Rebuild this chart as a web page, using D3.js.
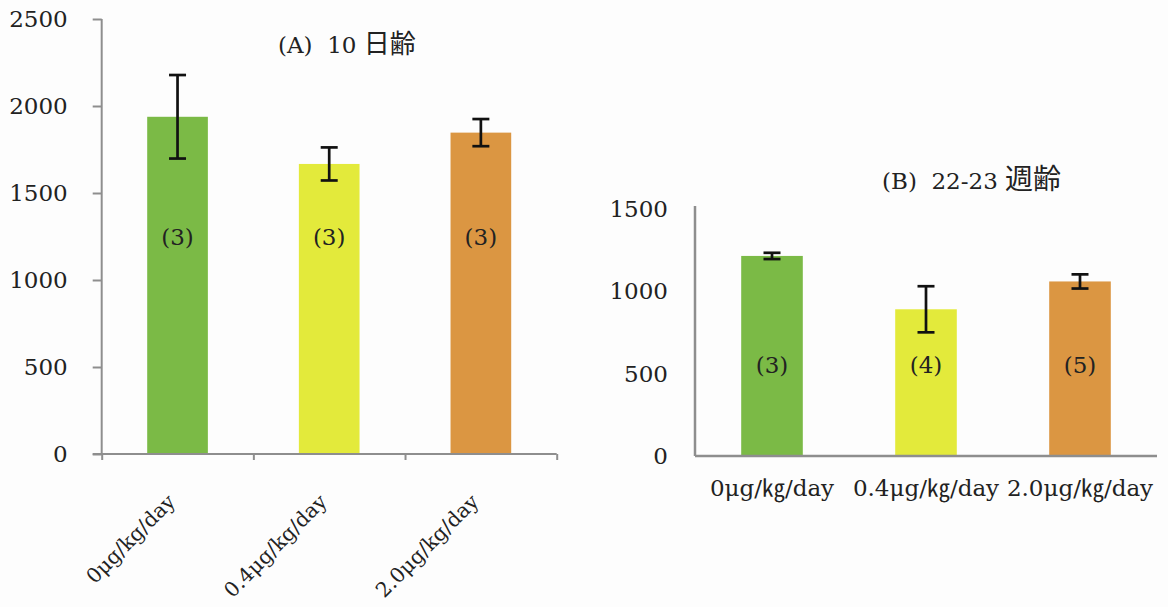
<!DOCTYPE html>
<html>
<head>
<meta charset="utf-8">
<script src="https://cdn.jsdelivr.net/npm/d3@7"></script>
<style>
  body { margin: 0; background: #fdfdfd; }
  svg { display: block; }
  text { font-family: "DejaVu Serif", "Liberation Serif", "Noto Sans CJK JP", serif; fill: #222; }
</style>
</head>
<body>
<div id="chart"></div>
<script>
// doses and colours shared by both panels
var categoriesA = ["0μg/kg/day", "0.4μg/kg/day", "2.0μg/kg/day"],
    categoriesB = ["0μg/㎏/day", "0.4μg/㎏/day", "2.0μg/㎏/day"],
    bar_colors = ["#7bba46", "#e3ea3b", "#db9642"];

// (A) 10 days old
var titleA = ["(A)  10 ", "日齢"],
    valuesA = [1938, 1667, 1847],
    errorsA = [240, 95, 78],
    countsA = [3, 3, 3],
    ticksA = [0, 500, 1000, 1500, 2000, 2500];

// (B) 22-23 weeks old
var titleB = ["(B)  22-23 ", "週齢"],
    valuesB = [1215, 891, 1060],
    errorsB = [19, 140, 43],
    countsB = [3, 4, 5],
    ticksB = [0, 500, 1000, 1500];

var width = 1168, height = 607;

var svg = d3.select("#chart").append("svg")
    .attr("width", width)
    .attr("height", height);

var axis_color = "#8e8e8e",
    font_size = 23;

// one panel = bars + error bars + n labels + axes
function drawPanel(opt) {
    var g = svg.append("g");

    var x = d3.scaleBand()
        .domain(opt.labels)
        .range([opt.left, opt.right])
        .paddingInner(0.6)
        .paddingOuter(0.3);

    var y = d3.scaleLinear()
        .domain([0, opt.ticks[opt.ticks.length - 1]])
        .range([opt.bottom, opt.top]);

    var cx = function(d, i) { return x(opt.labels[i]) + x.bandwidth() / 2; };

    // bars
    g.selectAll("rect.bar")
        .data(opt.values)
        .enter().append("rect")
        .attr("class", "bar")
        .attr("x", function(d, i) { return x(opt.labels[i]); })
        .attr("y", function(d) { return y(d); })
        .attr("width", x.bandwidth())
        .attr("height", function(d) { return y(0) - y(d); })
        .style("fill", function(d, i) { return bar_colors[i]; });

    // error bars
    var eb = g.selectAll("g.err")
        .data(opt.values)
        .enter().append("g")
        .attr("class", "err")
        .attr("transform", function(d, i) { return "translate(" + cx(d, i) + ",0)"; });
    eb.append("line")
        .attr("y1", function(d, i) { return y(d + opt.errors[i]); })
        .attr("y2", function(d, i) { return y(d - opt.errors[i]); });
    [1, -1].forEach(function(s) {
        eb.append("line")
            .attr("x1", -8.5).attr("x2", 8.5)
            .attr("y1", function(d, i) { return y(d + s * opt.errors[i]); })
            .attr("y2", function(d, i) { return y(d + s * opt.errors[i]); });
    });
    eb.selectAll("line")
        .style("stroke", "#111")
        .style("stroke-width", 2.7);

    // sample counts inside the bars
    g.selectAll("text.n")
        .data(opt.counts)
        .enter().append("text")
        .attr("class", "n")
        .attr("x", cx)
        .attr("y", y(opt.nLevel))
        .attr("dy", ".35em")
        .attr("text-anchor", "middle")
        .style("font-size", font_size + "px")
        .text(function(d) { return "(" + d + ")"; });

    // y axis
    var yAxis = g.append("g")
        .attr("transform", "translate(" + opt.left + ",0)")
        .call(d3.axisLeft(y)
            .tickValues(opt.ticks)
            .tickSize(opt.yTick)
            .tickPadding(opt.yPad)
            .tickFormat(d3.format("d")));
    yAxis.select(".domain")
        .attr("d", "M0," + opt.axisTop + "V" + opt.bottom);

    // x axis with ticks at category boundaries
    var xb = d3.scaleLinear().domain([0, opt.labels.length]).range([opt.left, opt.right]);
    var xAxis = g.append("g")
        .attr("transform", "translate(0," + opt.bottom + ")")
        .call(d3.axisBottom(xb)
            .tickValues(opt.xTick > 0 ? d3.range(opt.labels.length + 1) : [])
            .tickSize(opt.xTick)
            .tickSizeOuter(0)
            .tickFormat(""));
    xAxis.select(".domain")
        .attr("d", "M" + (opt.left - opt.yTick) + ",0H" + opt.right);

    g.selectAll(".domain, .tick line")
        .style("stroke", axis_color)
        .style("stroke-width", opt.axisWidth);
    yAxis.selectAll(".tick text")
        .style("font-family", "'DejaVu Serif', serif")
        .style("font-size", font_size + "px")
        .style("fill", "#222");

    // category labels
    var cl = g.selectAll("text.cat")
        .data(opt.labels)
        .enter().append("text")
        .attr("class", "cat")
        .style("font-size", opt.catSize + "px")
        .text(function(d) { return d; });
    if (opt.rotate) {
        cl.attr("text-anchor", "end")
          .attr("transform", function(d, i) {
              return "translate(" + (cx(d, i) - 1) + "," + (opt.bottom + 49) + ") rotate(-45)";
          });
    } else {
        cl.attr("text-anchor", "middle")
          .attr("x", cx)
          .attr("y", opt.bottom + 40);
    }

    // panel title
    var t = g.append("text")
        .attr("x", opt.titleX)
        .attr("y", opt.titleY)
        .attr("dy", ".35em")
        .style("white-space", "pre")
        .style("font-size", font_size + "px");
    t.append("tspan").text(opt.title[0]);
    t.append("tspan").style("font-size", opt.cjkSize + "px").text(opt.title[1]);
}

drawPanel({
    labels: categoriesA, values: valuesA, errors: errorsA, counts: countsA, ticks: ticksA,
    title: titleA, titleX: 278, titleY: 45, cjkSize: 26, nLevel: 1250,
    left: 101.7, right: 556.7, top: 19, bottom: 454, axisTop: 19, axisWidth: 2,
    yTick: 9, yPad: 25, xTick: 6, rotate: true, catSize: 20.5
});

drawPanel({
    labels: categoriesB, values: valuesB, errors: errorsB, counts: countsB, ticks: ticksB,
    title: titleB, titleX: 882, titleY: 181, cjkSize: 28, nLevel: 555,
    left: 695, right: 1157, top: 209, bottom: 456, axisTop: 206, axisWidth: 2.5,
    yTick: 0, yPad: 27, xTick: 0, rotate: false, catSize: 23
});
</script>
</body>
</html>
